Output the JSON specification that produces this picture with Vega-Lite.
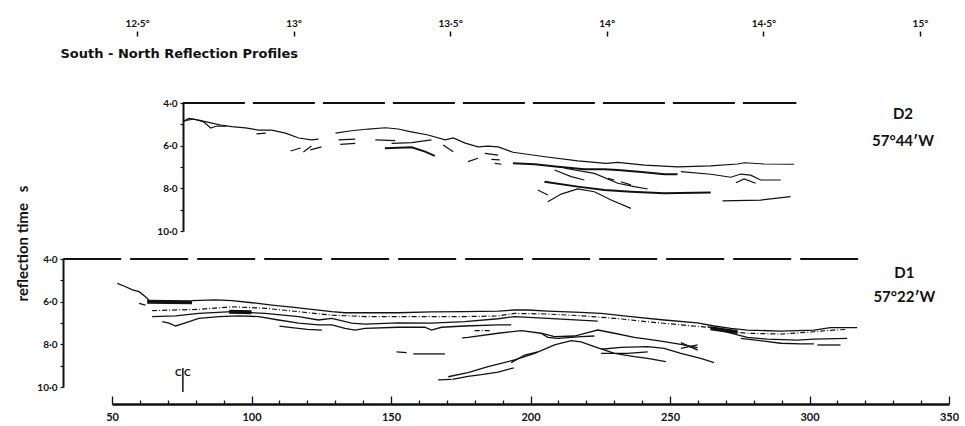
{
"$schema":"https://vega.github.io/schema/vega-lite/v6.json",
"padding":{"left":15,"top":18,"right":0,"bottom":0},
"background":"white",
"config":{"font":"Lato","view":{"stroke":null},"axis":{"grid":false,"labelFont":"Lato","labelFontWeight":"bold","labelColor":"#111","domainColor":"#111","tickColor":"#111","titleColor":"#111","titleFont":"Lato","titleFontWeight":"bold"}},
"datasets":{
"top":[
{"seg":"L1","km":75.4,"t":4.88},{"seg":"L1","km":77.5,"t":4.72},{"seg":"L1","km":81.1,"t":4.80},{"seg":"L1","km":85.8,"t":4.94},{"seg":"L1","km":89.0,"t":5.03},{"seg":"L1","km":92.9,"t":5.11},{"seg":"L1","km":97.9,"t":5.17},{"seg":"L1","km":102.6,"t":5.27},{"seg":"L1","km":107.2,"t":5.27},{"seg":"L1","km":112.2,"t":5.41},{"seg":"L1","km":116.9,"t":5.64},{"seg":"L1","km":121.5,"t":5.73},{"seg":"L1","km":124.0,"t":5.69},
{"seg":"L1r","km":130.1,"t":5.41},{"seg":"L1r","km":135.8,"t":5.30},{"seg":"L1r","km":141.9,"t":5.22},{"seg":"L1r","km":148.0,"t":5.16},{"seg":"L1r","km":152.6,"t":5.22},{"seg":"L1r","km":157.3,"t":5.35},{"seg":"L1r","km":163.3,"t":5.50},{"seg":"L1r","km":169.4,"t":5.73},{"seg":"L1r","km":172.3,"t":5.64},{"seg":"L1r","km":176.6,"t":5.88},{"seg":"L1r","km":181.2,"t":6.06},{"seg":"L1r","km":184.8,"t":6.02},{"seg":"L1r","km":188.4,"t":6.06},{"seg":"L1r","km":193.7,"t":6.31},{"seg":"L1r","km":205.2,"t":6.52},{"seg":"L1r","km":217.0,"t":6.71},{"seg":"L1r","km":227.0,"t":6.83},{"seg":"L1r","km":231.3,"t":6.78},{"seg":"L1r","km":240.9,"t":6.91},{"seg":"L1r","km":252.7,"t":6.99},{"seg":"L1r","km":264.5,"t":6.95},{"seg":"L1r","km":274.2,"t":6.86},{"seg":"L1r","km":276.7,"t":6.80},{"seg":"L1r","km":283.8,"t":6.86},{"seg":"L1r","km":294.5,"t":6.87},
{"seg":"L1b","km":75.7,"t":4.84},{"seg":"L1b","km":79.3,"t":4.75},{"seg":"L1b","km":82.9,"t":4.89},{"seg":"L1b","km":85.4,"t":5.17},{"seg":"L1b","km":87.5,"t":5.08},{"seg":"L1b","km":91.1,"t":5.08},
{"seg":"S1","km":101.8,"t":5.45},{"seg":"S1","km":105.1,"t":5.41},
{"seg":"SA","km":114.0,"t":6.25},{"seg":"SA","km":117.6,"t":6.11},
{"seg":"SB","km":118.6,"t":6.30},{"seg":"SB","km":121.5,"t":6.02},
{"seg":"SC","km":121.1,"t":6.20},{"seg":"SC","km":125.1,"t":6.06},
{"seg":"EQ1","km":131.2,"t":5.73},{"seg":"EQ1","km":137.2,"t":5.69},
{"seg":"EQ2","km":131.8,"t":5.94},{"seg":"EQ2","km":137.2,"t":5.89},
{"seg":"SD","km":144.4,"t":5.73},{"seg":"SD","km":151.5,"t":5.76},
{"seg":"SE","km":147.8,"t":6.12},{"seg":"SE","km":157.4,"t":6.08},{"seg":"SE","km":162.2,"t":6.28},{"seg":"SE","km":165.7,"t":6.48},
{"seg":"SF","km":150.2,"t":5.89},{"seg":"SF","km":157.4,"t":5.86},{"seg":"SF","km":164.5,"t":5.73},
{"seg":"SG","km":168.7,"t":5.97},{"seg":"SG","km":172.3,"t":6.28},
{"seg":"SH","km":177.6,"t":6.75},{"seg":"SH","km":181.2,"t":6.59},
{"seg":"I1","km":183.6,"t":6.36},{"seg":"I1","km":188.4,"t":6.44},
{"seg":"I2","km":186.0,"t":6.64},{"seg":"I2","km":189.0,"t":6.67},
{"seg":"I3","km":187.2,"t":6.83},{"seg":"I3","km":189.6,"t":6.87},
{"seg":"L2","km":193.7,"t":6.83},{"seg":"L2","km":201.5,"t":6.87},{"seg":"L2","km":209.8,"t":6.99},{"seg":"L2","km":219.3,"t":7.11},{"seg":"L2","km":226.5,"t":7.11},{"seg":"L2","km":231.3,"t":7.14},{"seg":"L2","km":240.8,"t":7.25},{"seg":"L2","km":248.0,"t":7.34},{"seg":"L2","km":252.7,"t":7.34},
{"seg":"L3","km":253.9,"t":7.22},{"seg":"L3","km":264.6,"t":7.34},{"seg":"L3","km":271.8,"t":7.48},{"seg":"L3","km":275.4,"t":7.33},{"seg":"L3","km":278.9,"t":7.38},{"seg":"L3","km":282.5,"t":7.61},{"seg":"L3","km":289.7,"t":7.61},
{"seg":"L3b","km":273.6,"t":7.74},{"seg":"L3b","km":276.6,"t":7.56},{"seg":"L3b","km":280.7,"t":7.76},
{"seg":"L4a","km":208.6,"t":7.14},{"seg":"L4a","km":214.6,"t":7.45},{"seg":"L4a","km":219.3,"t":7.61},
{"seg":"L4b","km":212.2,"t":7.06},{"seg":"L4b","km":222.9,"t":7.30},{"seg":"L4b","km":231.3,"t":7.76},{"seg":"L4b","km":237.2,"t":7.92},{"seg":"L4b","km":242.0,"t":8.03},
{"seg":"L4c","km":205.0,"t":7.69},{"seg":"L4c","km":216.9,"t":7.92},{"seg":"L4c","km":226.5,"t":8.08},{"seg":"L4c","km":236.0,"t":8.16},{"seg":"L4c","km":247.9,"t":8.23},{"seg":"L4c","km":264.6,"t":8.19},
{"seg":"L4d","km":202.6,"t":8.08},{"seg":"L4d","km":206.2,"t":8.31},
{"seg":"ARC","km":206.2,"t":8.63},{"seg":"ARC","km":211.0,"t":8.27},{"seg":"ARC","km":216.9,"t":8.03},{"seg":"ARC","km":222.9,"t":8.16},{"seg":"ARC","km":228.9,"t":8.55},{"seg":"ARC","km":236.0,"t":8.94},
{"seg":"SS1","km":227.7,"t":7.53},{"seg":"SS1","km":230.1,"t":7.61},
{"seg":"SS2","km":232.4,"t":7.69},{"seg":"SS2","km":236.0,"t":7.84},
{"seg":"LR","km":268.8,"t":8.59},{"seg":"LR","km":282.5,"t":8.55},{"seg":"LR","km":293.2,"t":8.39}
],
"bottom":[
{"seg":"B1s","km":51.9,"t":5.14},{"seg":"B1s","km":54.9,"t":5.30},{"seg":"B1s","km":57.3,"t":5.45},{"seg":"B1s","km":59.7,"t":5.53},{"seg":"B1s","km":62.0,"t":5.77},{"seg":"B1s","km":63.2,"t":5.92},
{"seg":"B0","km":62.6,"t":6.00},{"seg":"B0","km":70.0,"t":6.02},{"seg":"B0","km":78.7,"t":6.03},
{"seg":"B1","km":78.7,"t":5.95},{"seg":"B1","km":87.1,"t":5.92},{"seg":"B1","km":93.0,"t":5.95},{"seg":"B1","km":100.2,"t":6.05},{"seg":"B1","km":107.3,"t":6.16},{"seg":"B1","km":114.5,"t":6.26},{"seg":"B1","km":121.6,"t":6.36},{"seg":"B1","km":128.8,"t":6.47},{"seg":"B1","km":133.5,"t":6.52},{"seg":"B1","km":140.7,"t":6.52},{"seg":"B1","km":152.6,"t":6.52},{"seg":"B1","km":164.5,"t":6.48},{"seg":"B1","km":176.4,"t":6.47},{"seg":"B1","km":188.4,"t":6.44},{"seg":"B1","km":194.3,"t":6.39},{"seg":"B1","km":199.1,"t":6.39},{"seg":"B1","km":206.2,"t":6.44},{"seg":"B1","km":218.1,"t":6.50},{"seg":"B1","km":225.3,"t":6.55},{"seg":"B1","km":236.0,"t":6.70},{"seg":"B1","km":247.9,"t":6.86},{"seg":"B1","km":259.8,"t":6.99},{"seg":"B1","km":265.8,"t":7.14},{"seg":"B1","km":271.8,"t":7.25},{"seg":"B1","km":277.7,"t":7.33},{"seg":"B1","km":289.6,"t":7.38},{"seg":"B1","km":301.6,"t":7.33},{"seg":"B1","km":307.5,"t":7.22},{"seg":"B1","km":317.1,"t":7.22},
{"seg":"B2","km":64.4,"t":6.42},{"seg":"B2","km":81.1,"t":6.36},{"seg":"B2","km":93.0,"t":6.24},{"seg":"B2","km":104.9,"t":6.31},{"seg":"B2","km":116.9,"t":6.47},{"seg":"B2","km":128.8,"t":6.63},{"seg":"B2","km":140.7,"t":6.70},{"seg":"B2","km":152.6,"t":6.70},{"seg":"B2","km":164.5,"t":6.70},{"seg":"B2","km":176.4,"t":6.70},{"seg":"B2","km":188.4,"t":6.67},{"seg":"B2","km":194.3,"t":6.55},{"seg":"B2","km":206.2,"t":6.58},{"seg":"B2","km":218.1,"t":6.66},{"seg":"B2","km":230.1,"t":6.78},{"seg":"B2","km":242.0,"t":6.94},{"seg":"B2","km":253.9,"t":7.09},{"seg":"B2","km":263.5,"t":7.20},{"seg":"B2","km":271.8,"t":7.41},{"seg":"B2","km":277.7,"t":7.48},{"seg":"B2","km":289.7,"t":7.52},{"seg":"B2","km":301.6,"t":7.41},{"seg":"B2","km":308.7,"t":7.33},{"seg":"B2","km":313.5,"t":7.30},
{"seg":"B3","km":64.4,"t":6.70},{"seg":"B3","km":72.8,"t":6.67},{"seg":"B3","km":81.1,"t":6.55},{"seg":"B3","km":93.0,"t":6.47},{"seg":"B3","km":104.9,"t":6.55},{"seg":"B3","km":116.9,"t":6.70},{"seg":"B3","km":124.0,"t":6.86},{"seg":"B3","km":128.8,"t":6.78},{"seg":"B3","km":135.9,"t":7.01},{"seg":"B3","km":140.7,"t":7.05},{"seg":"B3","km":152.6,"t":6.99},{"seg":"B3","km":164.5,"t":7.01},{"seg":"B3","km":176.4,"t":6.94},{"seg":"B3","km":188.4,"t":6.80},{"seg":"B3","km":194.3,"t":6.70},{"seg":"B3","km":206.2,"t":6.78},{"seg":"B3","km":224.1,"t":6.91},
{"seg":"BF2","km":92.0,"t":6.47},{"seg":"BF2","km":100.0,"t":6.50},
{"seg":"B4","km":68.0,"t":6.94},{"seg":"B4","km":70.4,"t":7.01},{"seg":"B4","km":72.8,"t":7.14},{"seg":"B4","km":76.3,"t":6.99},{"seg":"B4","km":81.1,"t":6.78},{"seg":"B4","km":88.3,"t":6.70},{"seg":"B4","km":95.4,"t":6.67},{"seg":"B4","km":102.6,"t":6.70},{"seg":"B4","km":109.7,"t":6.86},{"seg":"B4","km":116.9,"t":7.01},{"seg":"B4","km":124.0,"t":7.09},{"seg":"B4","km":128.8,"t":7.09},{"seg":"B4","km":133.5,"t":7.25},{"seg":"B4","km":137.1,"t":7.33},{"seg":"B4","km":140.7,"t":7.25},{"seg":"B4","km":152.6,"t":7.20},{"seg":"B4","km":162.1,"t":7.20},{"seg":"B4","km":164.5,"t":7.33},{"seg":"B4","km":168.1,"t":7.20},{"seg":"B4","km":176.4,"t":7.14},{"seg":"B4","km":188.4,"t":7.09},{"seg":"B4","km":193.1,"t":7.09},
{"seg":"B5","km":110.0,"t":7.15},{"seg":"B5","km":114.5,"t":7.22},{"seg":"B5","km":120.0,"t":7.30},{"seg":"B5","km":125.2,"t":7.33},
{"seg":"B6","km":180.0,"t":7.36},{"seg":"B6","km":186.0,"t":7.36},
{"seg":"B7","km":175.5,"t":7.70},{"seg":"B7","km":177.6,"t":7.67},{"seg":"B7","km":188.4,"t":7.48},{"seg":"B7","km":196.7,"t":7.36},{"seg":"B7","km":203.8,"t":7.48},{"seg":"B7","km":208.6,"t":7.64},{"seg":"B7","km":215.8,"t":7.61},{"seg":"B7","km":220.5,"t":7.45},{"seg":"B7","km":224.1,"t":7.33},{"seg":"B7","km":230.1,"t":7.48},{"seg":"B7","km":237.2,"t":7.67},{"seg":"B7","km":245.6,"t":7.83},{"seg":"B7","km":253.9,"t":8.00},{"seg":"B7","km":259.9,"t":8.16},
{"seg":"B9","km":203.8,"t":7.48},{"seg":"B9","km":206.2,"t":7.67},{"seg":"B9","km":209.8,"t":7.72},{"seg":"B9","km":218.1,"t":7.64},{"seg":"B9","km":222.9,"t":7.61},
{"seg":"B10a","km":253.9,"t":7.92},{"seg":"B10a","km":259.9,"t":8.27},
{"seg":"B10b","km":253.9,"t":8.19},{"seg":"B10b","km":259.9,"t":8.03},
{"seg":"G2","km":263.5,"t":7.17},{"seg":"G2","km":271.8,"t":7.48},{"seg":"G2","km":277.7,"t":7.67},{"seg":"G2","km":284.9,"t":7.76},{"seg":"G2","km":295.6,"t":7.80},{"seg":"G2","km":301.6,"t":7.76},{"seg":"G2","km":313.5,"t":7.72},
{"seg":"G3","km":275.4,"t":7.72},{"seg":"G3","km":289.7,"t":7.95},{"seg":"G3","km":296.8,"t":7.98},{"seg":"G3","km":301.6,"t":7.98},
{"seg":"G3b","km":302.8,"t":8.03},{"seg":"G3b","km":311.1,"t":8.03},
{"seg":"BF","km":264.5,"t":7.25},{"seg":"BF","km":270.0,"t":7.35},{"seg":"BF","km":274.2,"t":7.42},
{"seg":"ARCH","km":170.5,"t":9.52},{"seg":"ARCH","km":177.6,"t":9.33},{"seg":"ARCH","km":184.8,"t":9.05},{"seg":"ARCH","km":194.3,"t":8.73},{"seg":"ARCH","km":201.5,"t":8.42},{"seg":"ARCH","km":208.6,"t":8.03},{"seg":"ARCH","km":214.6,"t":7.83},{"seg":"ARCH","km":218.1,"t":7.88},{"seg":"ARCH","km":222.9,"t":8.11},{"seg":"ARCH","km":230.1,"t":8.42},{"seg":"ARCH","km":237.2,"t":8.58},{"seg":"ARCH","km":242.0,"t":8.66},{"seg":"ARCH","km":248.5,"t":8.81},
{"seg":"AD","km":166.9,"t":9.67},{"seg":"AD","km":171.7,"t":9.64},
{"seg":"H2","km":172.0,"t":9.64},{"seg":"H2","km":177.6,"t":9.50},{"seg":"H2","km":182.4,"t":9.42},{"seg":"H2","km":188.4,"t":9.30},{"seg":"H2","km":194.0,"t":9.10},
{"seg":"H3","km":193.1,"t":8.86},{"seg":"H3","km":197.9,"t":8.50},{"seg":"H3","km":202.6,"t":8.35},
{"seg":"I","km":225.3,"t":8.23},{"seg":"I","km":232.4,"t":8.14},{"seg":"I","km":242.0,"t":8.11},{"seg":"I","km":247.9,"t":8.19},{"seg":"I","km":253.9,"t":8.42},{"seg":"I","km":261.0,"t":8.66},{"seg":"I","km":265.8,"t":8.86},
{"seg":"I2","km":225.3,"t":8.42},{"seg":"I2","km":234.8,"t":8.42},{"seg":"I2","km":242.0,"t":8.35},
{"seg":"SH1","km":152.0,"t":8.35},{"seg":"SH1","km":155.6,"t":8.39},
{"seg":"SH2","km":158.0,"t":8.45},{"seg":"SH2","km":169.3,"t":8.45},
{"seg":"SB1","km":59.7,"t":6.08},{"seg":"SB1","km":62.0,"t":6.16}
],
"seaTop":[{"km":75.4,"km2":295.3,"t":4}],
"seaBot":[{"km":32.5,"km2":319.6,"t":4}],
"labTop":[{"km":333.5,"t":4.52,"text":"D2"},{"km":333.5,"t":5.78,"text":"57°44′W"}],
"labBot":[{"km":334,"t":4.66,"text":"D1"},{"km":334,"t":5.78,"text":"57°22′W"}],
"cic":[{"km":75.4,"t":9.11,"t2":10.24}],
"cicText":[{"km":75.4,"t":9.34,"text":"C C"}]
},
"vconcat":[
{
"width":837,"height":128,
"encoding":{
"x":{"field":"km","type":"quantitative","scale":{"domain":[50,350],"nice":false,"zero":false},
"axis":{"orient":"top","offset":67,"domain":false,"labelFlush":false,"values":[59,115.1,171.2,227.3,283.5,339.6],"tickSize":5,"tickWidth":1.5,"labelPadding":3,"labelFontSize":10,
"labelExpr":"datum.value < 80 ? '12·5°' : datum.value < 140 ? '13°' : datum.value < 200 ? '13·5°' : datum.value < 250 ? '14°' : datum.value < 310 ? '14·5°' : '15°'",
"title":"South - North Reflection Profiles","titleX":-52,"titleY":17,"titleAlign":"left","titleAnchor":"start","titleBaseline":"middle","titleFont":"DejaVu Sans","titleFontSize":13,"titlePadding":0}},
"y":{"field":"t","type":"quantitative","scale":{"domain":[4,10],"reverse":true,"nice":false,"zero":false},
"axis":{"orient":"left","offset":-71,"values":[4,5,6,7,8,9,10],"labelExpr":"datum.value % 2 == 0 ? replace(format(datum.value,'.1f'),'.','·') : ''","tickSize":3,"tickWidth":1.2,"domainWidth":2,"labelPadding":3,"labelFontSize":10,"title":null}}
},
"layer":[
{"data":{"name":"seaTop"},"mark":{"type":"rule","strokeDash":[62,8],"strokeWidth":2.2,"color":"#111"},"encoding":{"x2":{"field":"km2"}}},
{"data":{"name":"top"},"transform":[{"filter":{"not":{"field":"seg","oneOf":["SE","L2","L4c"]}}}],"mark":{"type":"line","strokeWidth":1.2,"color":"#111"},"encoding":{"detail":{"field":"seg"}}},
{"data":{"name":"top"},"transform":[{"filter":{"field":"seg","oneOf":["SE","L2","L4c"]}}],"mark":{"type":"line","strokeWidth":2,"color":"#111"},"encoding":{"detail":{"field":"seg"}}},
{"data":{"name":"labTop"},"mark":{"type":"text","font":"Lato","fontWeight":"bold","fontSize":15,"color":"#111"},"encoding":{"text":{"field":"text"}}}
]
},
{
"width":837,"height":128,
"encoding":{
"x":{"field":"km","type":"quantitative","scale":{"domain":[50,350],"nice":false,"zero":false},
"axis":{"orient":"bottom","offset":17,"labelFlush":false,"values":[50,60,70,80,90,100,110,120,130,140,150,160,170,180,190,200,210,220,230,240,250,260,270,280,290,300,310,320,330,340,350],"labelExpr":"datum.value % 50 == 0 ? datum.label : ''","tickSize":{"condition":{"test":"datum.value % 50 == 0","value":-8},"value":-4},"tickWidth":1.3,"domainWidth":2.5,"labelPadding":15,"labelFontSize":11,"title":null}},
"y":{"field":"t","type":"quantitative","scale":{"domain":[4,10],"reverse":true,"nice":false,"zero":false},
"axis":{"orient":"left","offset":49,"values":[4,5,6,7,8,9,10],"labelExpr":"datum.value % 2 == 0 ? replace(format(datum.value,'.1f'),'.','·') : ''","tickSize":3,"tickWidth":1.2,"domainWidth":2,"labelPadding":3,"labelFontSize":10,
"title":"reflection time\u00a0\u00a0\u00a0s","titleX":-41,"titleY":-16,"titleAngle":-90,"titleAlign":"center","titleBaseline":"middle","titleFontSize":15}}
},
"layer":[
{"data":{"name":"seaBot"},"mark":{"type":"rule","strokeDash":[58,9],"strokeWidth":2.2,"color":"#111"},"encoding":{"x2":{"field":"km2"}}},
{"data":{"name":"bottom"},"transform":[{"filter":{"not":{"field":"seg","oneOf":["B0","BF","BF2","B2","B6"]}}}],"mark":{"type":"line","strokeWidth":1.3,"color":"#111"},"encoding":{"detail":{"field":"seg"}}},
{"data":{"name":"bottom"},"transform":[{"filter":{"field":"seg","oneOf":["B0","BF","BF2"]}}],"mark":{"type":"line","strokeWidth":4,"color":"#111"},"encoding":{"detail":{"field":"seg"}}},
{"data":{"name":"bottom"},"transform":[{"filter":{"field":"seg","oneOf":["B2","B6"]}}],"mark":{"type":"line","strokeWidth":1.2,"strokeDash":[5,2,1,2],"color":"#111"},"encoding":{"detail":{"field":"seg"}}},
{"data":{"name":"labBot"},"mark":{"type":"text","font":"Lato","fontWeight":"bold","fontSize":15,"color":"#111"},"encoding":{"text":{"field":"text"}}},
{"data":{"name":"cic"},"mark":{"type":"rule","strokeWidth":1.5,"color":"#111"},"encoding":{"y2":{"field":"t2"}}},
{"data":{"name":"cicText"},"mark":{"type":"text","font":"Lato","fontWeight":"bold","fontSize":10,"color":"#111"},"encoding":{"text":{"field":"text"}}}
]
}
],
"spacing":28,
"bounds":"flush",
"resolve":{"scale":{"x":"independent","y":"independent"}}
}
